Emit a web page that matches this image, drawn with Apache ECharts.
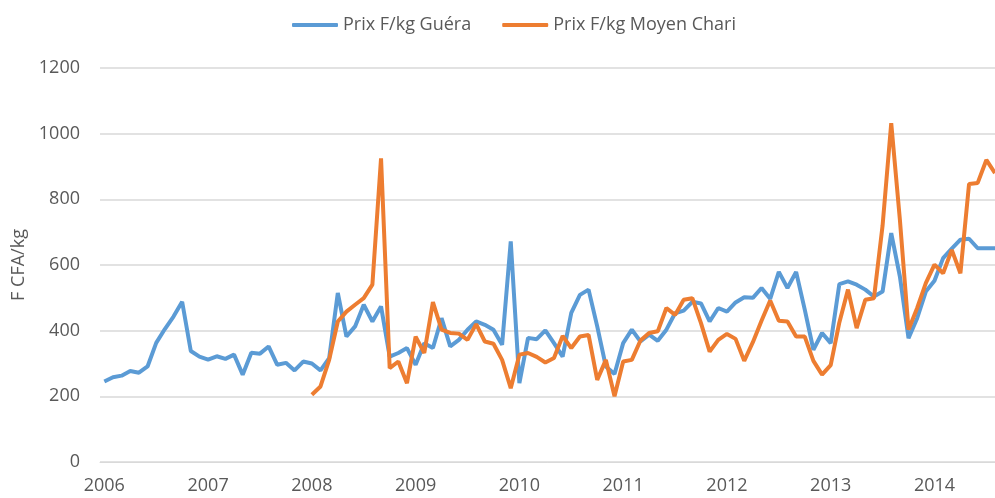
<!DOCTYPE html>
<html>
<head>
<meta charset="utf-8">
<script src="https://cdn.jsdelivr.net/npm/echarts@6/dist/echarts.min.js"></script>
<style>
  html, body { margin: 0; padding: 0; background: #fff; }
  #chart { width: 995px; height: 498px; }
</style>
</head>
<body>
<div id="chart"></div>
<script>
// monthly prices, index 0 = Jan 2006
const yearLabels = ['2006', '2007', '2008', '2009', '2010', '2011', '2012', '2013', '2014']

const guera = [
  245, 258, 263, 277, 272, 291, 363, 405, 443, 488, 338, 321, // 2006
  312, 322, 314, 327, 266, 333, 330, 352, 296, 302, 279, 306, // 2007
  300, 279, 316, 515, 382, 413, 479, 428, 474, 321, 332, 347, // 2008
  296, 362, 347, 438, 352, 372, 403, 428, 418, 403, 357, 672, // 2009
  240, 378, 374, 401, 362, 321, 454, 509, 525, 413, 291, 268, // 2010
  362, 403, 367, 388, 369, 403, 453, 461, 488, 483, 428, 469, // 2011
  458, 486, 502, 500, 530, 497, 579, 530, 579, 464, 342, 393, // 2012
  362, 542, 550, 540, 525, 504, 519, 697, 565, 377, 438, 519, // 2013
  552, 621, 650, 677, 680, 651, 651, 651 // 2014
]

// series starts in Jan 2008
const moyenChariStart = 24
const moyenChari = [
  205, 230, 311, 428, 458, 479, 499, 540, 925, 286, 306, 240, // 2008
  382, 332, 487, 403, 393, 391, 372, 420, 367, 360, 311, 225, // 2009
  327, 332, 320, 303, 317, 384, 347, 382, 387, 250, 311, 200, // 2010
  306, 311, 370, 393, 398, 469, 448, 494, 499, 423, 336, 372, // 2011
  390, 375, 308, 365, 430, 492, 430, 428, 382, 382, 308, 266, // 2012
  295, 425, 525, 408, 494, 499, 720, 1032, 738, 403, 469, 545, // 2013
  601, 575, 646, 575, 847, 850, 920, 880 // 2014
]

const yTicks = { min: 0, max: 1200, step: 200 }

function toPoints (values, offset) {
  return values.map((v, i) => [i + offset, v])
}

const font = '"Open Sans", "Liberation Sans", sans-serif'
const grey = '#595959'

const chart = echarts.init(document.getElementById('chart'))
chart.setOption({
  animation: false,
  color: ['#5B9BD5', '#ED7D31'],
  textStyle: { fontFamily: font },
  legend: {
    top: 11,
    left: 287,
    itemWidth: 46,
    itemHeight: 4,
    itemGap: 31,
    icon: 'roundRect',
    textStyle: { color: grey, fontSize: 18, fontFamily: font }
  },
  grid: {
    left: 100,
    right: -7,
    top: 68,
    bottom: 36
  },
  xAxis: {
    type: 'value',
    min: -0.5,
    max: guera.length - 1,
    axisLine: { show: true, lineStyle: { color: '#d9d9d9', width: 1 } },
    axisTick: { show: false },
    splitLine: { show: false },
    axisLabel: {
      customValues: yearLabels.map((y, i) => i * 12),
      formatter: v => yearLabels[Math.round(v / 12)],
      color: grey,
      fontSize: 18,
      margin: 15
    }
  },
  yAxis: {
    type: 'value',
    min: yTicks.min,
    max: yTicks.max,
    interval: yTicks.step,
    name: 'F CFA/kg',
    nameLocation: 'middle',
    nameRotate: 90,
    nameGap: 56,
    nameTextStyle: { color: grey, fontSize: 18 },
    axisLine: { show: false },
    axisTick: { show: false },
    axisLabel: { color: grey, fontSize: 18, margin: 20, formatter: v => String(v) },
    splitLine: { lineStyle: { color: '#d9d9d9', width: 1.5 } }
  },
  series: [
    {
      name: 'Prix F/kg Guéra',
      type: 'line',
      showSymbol: false,
      symbol: 'none',
      lineStyle: { width: 4 },
      data: toPoints(guera, 0)
    },
    {
      name: 'Prix F/kg Moyen Chari',
      type: 'line',
      showSymbol: false,
      symbol: 'none',
      lineStyle: { width: 4 },
      data: toPoints(moyenChari, moyenChariStart)
    }
  ]
})
</script>
</body>
</html>
